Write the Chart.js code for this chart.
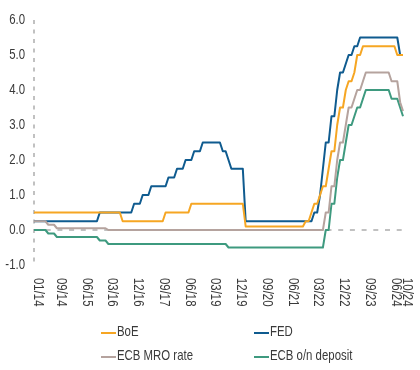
<!DOCTYPE html>
<html>
<head>
<meta charset="utf-8">
<script src="https://cdn.jsdelivr.net/npm/chart.js@4/dist/chart.umd.min.js"></script>
<style>
  html, body { margin: 0; padding: 0; background: #ffffff; }
  #wrap { width: 420px; height: 370px; }
</style>
</head>
<body>
<div id="wrap"><canvas id="c" width="420" height="370"></canvas></div>
<script>
// Policy rates, month-end values, Jan 2014 - Oct 2024 (one row per year)
const boe = [
  0.5,0.5,0.5,0.5,0.5,0.5,0.5,0.5,0.5,0.5,0.5,0.5,
  0.5,0.5,0.5,0.5,0.5,0.5,0.5,0.5,0.5,0.5,0.5,0.5,
  0.5,0.5,0.5,0.5,0.5,0.5,0.5,0.25,0.25,0.25,0.25,0.25,
  0.25,0.25,0.25,0.25,0.25,0.25,0.25,0.25,0.25,0.25,0.5,0.5,
  0.5,0.5,0.5,0.5,0.5,0.5,0.5,0.75,0.75,0.75,0.75,0.75,
  0.75,0.75,0.75,0.75,0.75,0.75,0.75,0.75,0.75,0.75,0.75,0.75,
  0.75,0.75,0.1,0.1,0.1,0.1,0.1,0.1,0.1,0.1,0.1,0.1,
  0.1,0.1,0.1,0.1,0.1,0.1,0.1,0.1,0.1,0.1,0.1,0.25,
  0.25,0.5,0.75,0.75,1.0,1.25,1.25,1.75,2.25,2.25,3.0,3.5,
  3.5,4.0,4.25,4.25,4.5,5.0,5.0,5.25,5.25,5.25,5.25,5.25,
  5.25,5.25,5.25,5.25,5.25,5.25,5.25,5.0,5.0,5.0
];
const fed = [
  0.25,0.25,0.25,0.25,0.25,0.25,0.25,0.25,0.25,0.25,0.25,0.25,
  0.25,0.25,0.25,0.25,0.25,0.25,0.25,0.25,0.25,0.25,0.25,0.5,
  0.5,0.5,0.5,0.5,0.5,0.5,0.5,0.5,0.5,0.5,0.5,0.75,
  0.75,0.75,1.0,1.0,1.0,1.25,1.25,1.25,1.25,1.25,1.25,1.5,
  1.5,1.5,1.75,1.75,1.75,2.0,2.0,2.0,2.25,2.25,2.25,2.5,
  2.5,2.5,2.5,2.5,2.5,2.5,2.25,2.25,2.0,1.75,1.75,1.75,
  1.75,1.75,0.25,0.25,0.25,0.25,0.25,0.25,0.25,0.25,0.25,0.25,
  0.25,0.25,0.25,0.25,0.25,0.25,0.25,0.25,0.25,0.25,0.25,0.25,
  0.25,0.25,0.5,0.5,1.0,1.75,2.5,2.5,3.25,3.25,4.0,4.5,
  4.5,4.75,5.0,5.0,5.25,5.25,5.5,5.5,5.5,5.5,5.5,5.5,
  5.5,5.5,5.5,5.5,5.5,5.5,5.5,5.5,5.0,5.0
];
const ecbMro = [
  0.25,0.25,0.25,0.25,0.25,0.15,0.15,0.15,0.05,0.05,0.05,0.05,
  0.05,0.05,0.05,0.05,0.05,0.05,0.05,0.05,0.05,0.05,0.05,0.05,
  0.05,0.05,0,0,0,0,0,0,0,0,0,0,
  0,0,0,0,0,0,0,0,0,0,0,0,
  0,0,0,0,0,0,0,0,0,0,0,0,
  0,0,0,0,0,0,0,0,0,0,0,0,
  0,0,0,0,0,0,0,0,0,0,0,0,
  0,0,0,0,0,0,0,0,0,0,0,0,
  0,0,0,0,0,0,0.5,0.5,1.25,1.25,2.0,2.5,
  2.5,3.0,3.5,3.5,3.75,4.0,4.0,4.25,4.5,4.5,4.5,4.5,
  4.5,4.5,4.5,4.5,4.5,4.25,4.25,4.25,3.65,3.4
];
const ecbDeposit = [
  0,0,0,0,0,-0.1,-0.1,-0.1,-0.2,-0.2,-0.2,-0.2,
  -0.2,-0.2,-0.2,-0.2,-0.2,-0.2,-0.2,-0.2,-0.2,-0.2,-0.2,-0.3,
  -0.3,-0.3,-0.4,-0.4,-0.4,-0.4,-0.4,-0.4,-0.4,-0.4,-0.4,-0.4,
  -0.4,-0.4,-0.4,-0.4,-0.4,-0.4,-0.4,-0.4,-0.4,-0.4,-0.4,-0.4,
  -0.4,-0.4,-0.4,-0.4,-0.4,-0.4,-0.4,-0.4,-0.4,-0.4,-0.4,-0.4,
  -0.4,-0.4,-0.4,-0.4,-0.4,-0.4,-0.4,-0.4,-0.5,-0.5,-0.5,-0.5,
  -0.5,-0.5,-0.5,-0.5,-0.5,-0.5,-0.5,-0.5,-0.5,-0.5,-0.5,-0.5,
  -0.5,-0.5,-0.5,-0.5,-0.5,-0.5,-0.5,-0.5,-0.5,-0.5,-0.5,-0.5,
  -0.5,-0.5,-0.5,-0.5,-0.5,-0.5,0,0,0.75,0.75,1.5,2.0,
  2.0,2.5,3.0,3.0,3.25,3.5,3.5,3.75,4.0,4.0,4.0,4.0,
  4.0,4.0,4.0,4.0,4.0,3.75,3.75,3.75,3.5,3.25
];

// Monthly categories "MM/YY"
const months = [];
for (let y = 14; y <= 24; y++) {
  for (let m = 1; m <= 12; m++) {
    if (months.length < boe.length) months.push(String(m).padStart(2, '0') + '/' + y);
  }
}

// Labelled months along the x axis
const xTickLabels = ['01/14','09/14','06/15','03/16','12/16','09/17','06/18','03/19',
                     '12/19','09/20','06/21','03/22','12/22','09/23','06/24','10/24'];

const yTicks = [-1, 0, 1, 2, 3, 4, 5, 6];

const FONT = "15px 'Liberation Sans', Arial, sans-serif";
const SQUEEZE = 0.76;         // horizontal text compression, gives a condensed face
const TEXT = '#3a3a3a';
const DASH_GREY = '#adadad';

// Condensed text helper: draw at (x, y), optionally rotated
function squeezedText(ctx, str, x, y, align, baseline, angle) {
  ctx.save();
  ctx.translate(x, y);
  if (angle) ctx.rotate(angle);
  ctx.scale(SQUEEZE, 1);
  ctx.textAlign = align;
  ctx.textBaseline = baseline;
  ctx.fillText(str, 0, 0);
  ctx.restore();
}

// Dashed y axis line and dashed zero line, under the series
const guideLines = {
  id: 'guideLines',
  beforeDatasetsDraw(chart) {
    const { ctx, chartArea, scales } = chart;
    const y0 = scales.y.getPixelForValue(0);
    ctx.save();
    ctx.strokeStyle = DASH_GREY;
    ctx.lineWidth = 1.5;
    ctx.setLineDash([4, 5.5]);
    ctx.beginPath();
    ctx.moveTo(chartArea.left, chartArea.top);
    ctx.lineTo(chartArea.left, chartArea.bottom + 2);
    ctx.stroke();
    ctx.setLineDash([5, 6.7]);
    ctx.beginPath();
    ctx.moveTo(chartArea.left, y0);
    ctx.lineTo(chartArea.right, y0);
    ctx.stroke();
    ctx.restore();
  }
};

// Axis labels: value ticks on the left, month labels turned to read downward
const axisLabels = {
  id: 'axisLabels',
  afterDraw(chart) {
    const { ctx, chartArea, scales } = chart;
    ctx.save();
    ctx.fillStyle = TEXT;
    ctx.font = FONT;
    scales.y.ticks.forEach(t => {
      const y = scales.y.getPixelForValue(t.value);
      squeezedText(ctx, Number(t.value).toFixed(1), chartArea.left - 9, y, 'right', 'middle', 0);
    });
    xTickLabels.forEach(lbl => {
      const idx = months.indexOf(lbl);
      if (idx < 0) return;
      const x = scales.x.getPixelForValue(idx);
      squeezedText(ctx, lbl, x, chartArea.bottom + 13, 'left', 'alphabetic', Math.PI / 2);
    });
    ctx.restore();
  }
};

// Two-column legend below the chart
const legendGrid = {
  id: 'legendGrid',
  afterDraw(chart) {
    const { ctx } = chart;
    const cols = [101, 254];
    const rows = [332, 356];
    ctx.save();
    ctx.font = FONT;
    chart.data.datasets.forEach((ds, i) => {
      const x = cols[i % 2];
      const y = rows[Math.floor(i / 2)];
      ctx.strokeStyle = ds.borderColor;
      ctx.lineWidth = 2;
      ctx.beginPath();
      ctx.moveTo(x, y + 1);
      ctx.lineTo(x + 15, y + 1);
      ctx.stroke();
      ctx.fillStyle = TEXT;
      squeezedText(ctx, ds.label, x + 16, y, 'left', 'middle', 0);
    });
    ctx.restore();
  }
};

const lineStyle = { borderWidth: 2, pointRadius: 0, tension: 0, fill: false, borderJoinStyle: 'round' };

new Chart(document.getElementById('c'), {
  type: 'line',
  data: {
    labels: months,
    datasets: [
      { label: 'BoE', data: boe, borderColor: '#f6a623', order: 0, ...lineStyle },
      { label: 'FED', data: fed, borderColor: '#0f5b8f', order: 2, ...lineStyle },
      { label: 'ECB MRO rate', data: ecbMro, borderColor: '#b5a39e', order: 1, ...lineStyle },
      { label: 'ECB o/n deposit', data: ecbDeposit, borderColor: '#3e9a7f', order: 3, ...lineStyle }
    ]
  },
  options: {
    responsive: false,
    animation: false,
    devicePixelRatio: 1,
    layout: { padding: { left: 0, right: 17, top: 20, bottom: 105 } },
    plugins: { legend: { display: false }, tooltip: { enabled: false } },
    scales: {
      x: { type: 'category', display: false, offset: false },
      y: {
        min: -1, max: 6,
        afterFit(scale) { scale.width = 34; },
        afterBuildTicks(scale) { scale.ticks = yTicks.map(v => ({ value: v })); },
        grid: { display: false, drawTicks: false },
        border: { display: false },
        ticks: { display: false }
      }
    }
  },
  plugins: [guideLines, axisLabels, legendGrid]
});
</script>
</body>
</html>
